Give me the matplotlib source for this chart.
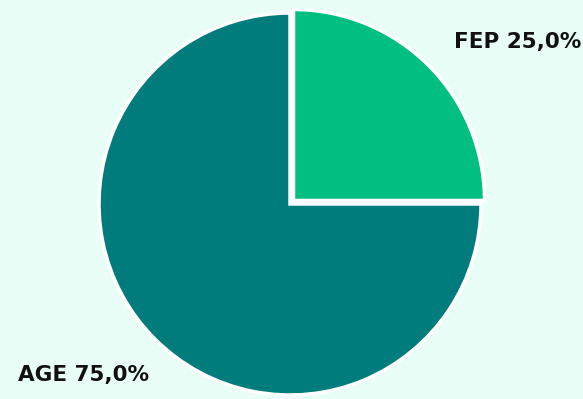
import matplotlib
matplotlib.use("Agg")
import matplotlib.pyplot as plt

labels = ["FEP", "AGE"]
shares = [25.0, 75.0]
colors = ["#00BF80", "#007C7C"]

bg = "#EAFEF8"
W, H = 583, 399

fig = plt.figure(figsize=(W / 100, H / 100), dpi=100, facecolor=bg)

# pie centre ~ (290, 204) px, radius ~ 191 px
cx, cy, r = 290, 204, 191
ax = fig.add_axes([(cx - r) / W, (H - cy - r) / H, 2 * r / W, 2 * r / H])
ax.set_facecolor(bg)
wedges, _ = ax.pie(shares, colors=colors, startangle=90, counterclock=False,
                   explode=[0.026, 0], wedgeprops=dict(edgecolor="white", linewidth=2.5))
for w in wedges:
    w.set_clip_on(False)
ax.set_xlim(-1, 1)
ax.set_ylim(-1, 1)
ax.axis("off")

font = dict(family=["DejaVu Sans"], fontweight="bold", fontsize=15.5, color="#111111")
fig.text(454 / W, 1 - 42 / H, f"{labels[0]} {shares[0]:.1f}%".replace(".", ","), ha="left", va="center", **font)
fig.text(18 / W, 1 - 375 / H, f"{labels[1]} {shares[1]:.1f}%".replace(".", ","), ha="left", va="center", **font)

fig.savefig("out.png", dpi=100, facecolor=bg)
